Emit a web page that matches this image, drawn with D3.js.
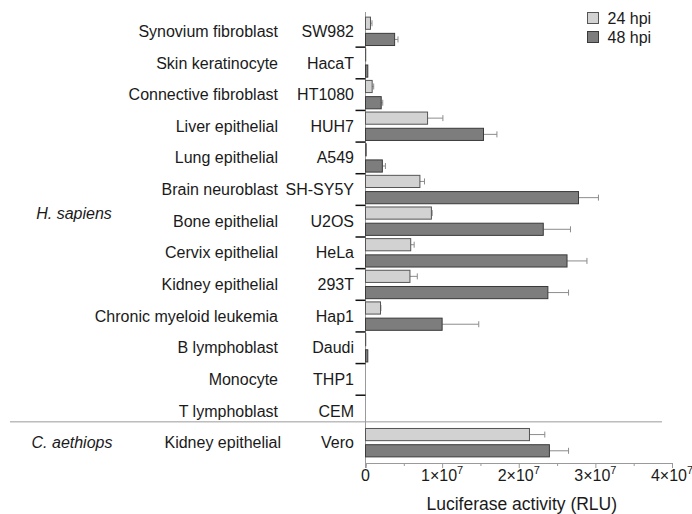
<!DOCTYPE html>
<html>
  <head>
    <meta charset="UTF-8">
    <title>Luciferase activity</title>
    <script src="https://cdn.jsdelivr.net/npm/d3@7"></script>
    <style>
    body { margin: 0; background: #fff; }
    text { font-family: "Liberation Sans", Arial, sans-serif; fill: #1a1a1a; }
    .err { stroke: #8c8c8c; stroke-width: 1; }
    .axis-line { stroke: #9a9a9a; stroke-width: 1; }
    </style>
  </head>
  <body>
  <script type="text/javascript">

  var cellLines = ["SW982", "HacaT", "HT1080", "HUH7", "A549", "SH-SY5Y", "U2OS", "HeLa", "293T", "Hap1", "Daudi", "THP1", "CEM", "Vero"]
  var tissues = ["Synovium fibroblast", "Skin keratinocyte", "Connective fibroblast", "Liver epithelial", "Lung epithelial",
    "Brain neuroblast", "Bone epithelial", "Cervix epithelial", "Kidney epithelial", "Chronic myeloid leukemia",
    "B lymphoblast", "Monocyte", "T lymphoblast", "Kidney epithelial"]
  var species = ["H. sapiens", "C. aethiops"]
  var hpi24 = [6.5e5, 3e4, 8.7e5, 8.1e6, 1e5, 7.1e6, 8.6e6, 5.9e6, 5.8e6, 1.96e6, 3e4, 0, 0, 2.14e7]
  var err24 = [2e5, 0, 2e5, 2e6, 0, 6e5, 1e5, 4.5e5, 9.6e5, 5e4, 0, 0, 0, 2e6]
  var hpi48 = [3.8e6, 3e5, 2.05e6, 1.54e7, 2.2e6, 2.78e7, 2.32e7, 2.63e7, 2.38e7, 1.0e7, 3e5, 0, 0, 2.4e7]
  var err48 = [4.4e5, 0, 2e5, 1.75e6, 4e5, 2.6e6, 3.55e6, 2.6e6, 2.7e6, 4.78e6, 0, 0, 0, 2.5e6]
  var series = ["24 hpi", "48 hpi"]
  var xTicks = [0, 1e7, 2e7, 3e7, 4e7]

  var W = 692, H = 514
  var svg = d3.select('body').append('svg').attr('width', W).attr('height', H)

  var x = d3.scaleLinear().domain([0, 4e7]).range([365.5, 672])
  var y = d3.scaleBand().domain(cellLines).range([15.5, 458.5])
  var yIn = d3.scaleBand().domain(series).range([0, y.bandwidth()]).paddingInner(0.25).paddingOuter(0.1)

  var fills = {"24 hpi": "#d2d2d2", "48 hpi": "#7d7d7d"}
  var strokes = {"24 hpi": "#555", "48 hpi": "#3a3a3a"}

  var rows = cellLines.map((c, i) => ({
    cell: c, tissue: tissues[i],
    bars: [{s: "24 hpi", v: hpi24[i], e: err24[i]}, {s: "48 hpi", v: hpi48[i], e: err48[i]}]
  }))

  // separator between species
  var sepY = y("Vero") - 5
  svg.append('line').attr('class', 'axis-line')
    .attr('x1', 10).attr('x2', 662).attr('y1', sepY).attr('y2', sepY)

  // x axis
  var xAxisY = 463
  var gx = svg.append('g').attr('transform', 'translate(0,' + xAxisY + ')')
  gx.call(d3.axisBottom(x).tickValues(xTicks).tickSize(5).tickFormat(''))
  gx.append('g').call(d3.axisBottom(x).tickValues([5e6, 1.5e7, 2.5e7, 3.5e7]).tickSize(3).tickFormat(''))
  gx.selectAll('.domain').attr('stroke', '#9a9a9a')
  gx.selectAll('.tick line').attr('stroke', '#9a9a9a')

  var tl = svg.append('g').selectAll('text').data(xTicks).enter().append('text')
    .attr('x', d => x(d)).attr('y', xAxisY + 18)
    .attr('text-anchor', 'middle').style('font-size', '16px')
  tl.filter(d => d === 0).text('0')
  tl.filter(d => d !== 0).each(function(d) {
    var t = d3.select(this)
    t.append('tspan').text((d / 1e7) + '×10')
    t.append('tspan').attr('dy', -7).style('font-size', '11px').text('7')
  })

  svg.append('text').attr('x', (x(0) + x(4e7)) / 2 + 3).attr('y', 510)
    .attr('text-anchor', 'middle').style('font-size', '17.5px')
    .text('Luciferase activity (RLU)')

  // y axis line + category ticks
  svg.append('line').attr('class', 'axis-line')
    .attr('x1', x(0)).attr('x2', x(0)).attr('y1', 12).attr('y2', xAxisY + 5)
  svg.append('g').selectAll('line').data(cellLines.slice(1, 13)).enter().append('line')
    .attr('x1', x(0) - 10).attr('x2', x(0))
    .attr('y1', d => y(d)).attr('y2', d => y(d))
    .attr('stroke', '#111').attr('stroke-width', 1.5)

  // bars
  var g = svg.append('g').selectAll('g').data(rows).enter().append('g')
    .attr('transform', d => 'translate(0,' + y(d.cell) + ')')

  var b = g.selectAll('g').data(d => d.bars.filter(v => v.v > 0)).enter().append('g')
  b.filter(d => d.e > 0).append('line').attr('class', 'err')
    .attr('x1', d => x(d.v)).attr('x2', d => x(d.v + d.e))
    .attr('y1', d => yIn(d.s) + yIn.bandwidth() / 2).attr('y2', d => yIn(d.s) + yIn.bandwidth() / 2)
  b.filter(d => d.e > 0).append('line').attr('class', 'err')
    .attr('x1', d => x(d.v + d.e)).attr('x2', d => x(d.v + d.e))
    .attr('y1', d => yIn(d.s) + yIn.bandwidth() / 2 - 3).attr('y2', d => yIn(d.s) + yIn.bandwidth() / 2 + 3)
  b.append('rect')
    .attr('x', x(0)).attr('y', d => yIn(d.s))
    .attr('width', d => x(d.v) - x(0)).attr('height', yIn.bandwidth())
    .attr('fill', d => fills[d.s]).attr('stroke', d => strokes[d.s]).attr('stroke-width', 1)

  // labels
  g.append('text').attr('x', 354).attr('y', y.bandwidth() / 2).attr('dy', '0.35em')
    .attr('text-anchor', 'end').style('font-size', '16px').text(d => d.cell)
  g.append('text').attr('x', d => d.cell === 'Vero' ? 281 : 278).attr('y', y.bandwidth() / 2).attr('dy', '0.35em')
    .attr('text-anchor', 'end').style('font-size', '16px').text(d => d.tissue)

  svg.append('text').attr('x', 74).attr('y', y('U2OS') + y.bandwidth() / 2 - 8).attr('dy', '0.35em')
    .attr('text-anchor', 'middle').style('font-size', '16px').style('font-style', 'italic').text(species[0])
  svg.append('text').attr('x', 72).attr('y', y('Vero') + y.bandwidth() / 2).attr('dy', '0.35em')
    .attr('text-anchor', 'middle').style('font-size', '16px').style('font-style', 'italic').text(species[1])

  // legend
  var lg = svg.append('g').selectAll('g').data(series).enter().append('g')
    .attr('transform', (d, i) => 'translate(587.5,' + (12.5 + i * 19) + ')')
  lg.append('rect').attr('width', 11).attr('height', 11)
    .attr('fill', d => fills[d]).attr('stroke', d => strokes[d])
  lg.append('text').attr('x', 20).attr('y', 5.5).attr('dy', '0.35em').style('font-size', '16px').text(d => d)

  </script>
  </body>
</html>
